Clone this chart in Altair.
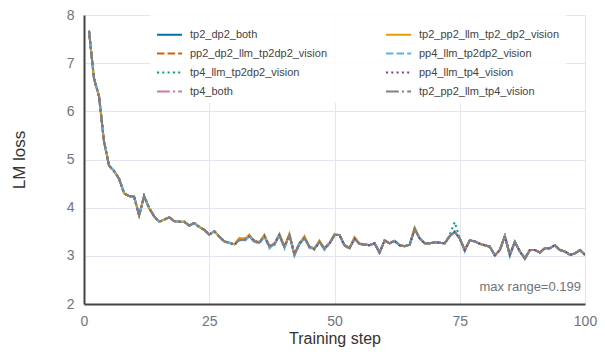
import altair as alt
import pandas as pd

# ---- data ----
steps = list(range(1, 101))

base_loss = [
    7.67, 6.68, 6.31, 5.37, 4.87, 4.76, 4.60, 4.30, 4.24, 4.23,
    3.84, 4.24, 3.99, 3.82, 3.71, 3.75, 3.80, 3.72, 3.71, 3.71,
    3.63, 3.68, 3.60, 3.54, 3.44, 3.51, 3.40, 3.30, 3.27, 3.24,
    3.33, 3.33, 3.41, 3.30, 3.28, 3.41, 3.20, 3.25, 3.43, 3.19,
    3.43, 3.03, 3.26, 3.37, 3.19, 3.15, 3.29, 3.15, 3.26, 3.43,
    3.43, 3.22, 3.16, 3.36, 3.25, 3.23, 3.22, 3.26, 3.07, 3.32,
    3.26, 3.31, 3.22, 3.20, 3.23, 3.56, 3.36, 3.26, 3.26, 3.28,
    3.27, 3.26, 3.41, 3.50, 3.36, 3.12, 3.32, 3.30, 3.25, 3.22,
    3.19, 3.01, 3.12, 3.41, 3.02, 3.29, 3.09, 2.94, 3.12, 3.12,
    3.07, 3.16, 3.16, 3.22, 3.12, 3.09, 3.02, 3.05, 3.12, 3.02,
]

# series in drawing order (last one on top) and in legend order (column-wise)
series_names = [
    "tp2_dp2_both",
    "pp2_dp2_llm_tp2dp2_vision",
    "tp4_llm_tp2dp2_vision",
    "tp4_both",
    "tp2_pp2_llm_tp2_dp2_vision",
    "pp4_llm_tp2dp2_vision",
    "pp4_llm_tp4_vision",
    "tp2_pp2_llm_tp4_vision",
]
series_colors = ["#0072B2", "#D55E00", "#009E73", "#CC79A7",
                 "#E69F00", "#56B4E9", "#7B3F9E", "#808080"]
solid = [1, 0]
dashed = [7.4, 3.2]
dotted = [2, 3.3]
dashdot = [12.8, 3.2, 2, 3.2]
series_dashes = [solid, dashed, dotted, dashdot, solid, dashed, dotted, dashdot]

# per-series values (step -> loss) where a run visibly departs from the shared curve
series_deviations = {
    "tp2_dp2_both": {38: 3.23, 43: 3.24},
    "pp2_dp2_llm_tp2dp2_vision": {34: 3.32, 56: 3.25},
    "tp4_llm_tp2dp2_vision": {73: 3.44, 74: 3.70},
    "tp4_both": {31: 3.37, 32: 3.36, 62: 3.33},
    "tp2_pp2_llm_tp2_dp2_vision": {31: 3.36, 33: 3.44, 36: 3.44, 39: 3.46, 41: 3.46,
                                   44: 3.41, 47: 3.32, 50: 3.46, 54: 3.39, 66: 3.59, 88: 2.97},
    "pp4_llm_tp2dp2_vision": {32: 3.30, 35: 3.24, 37: 3.15, 40: 3.15, 42: 3.00, 45: 3.16,
                              48: 3.12, 52: 3.19, 59: 3.04, 76: 3.09, 85: 2.99},
    "pp4_llm_tp4_vision": {30: 3.22, 46: 3.13},
    "tp2_pp2_llm_tp4_vision": {},
}

x_ticks = [0, 25, 50, 75, 100]
y_ticks = [2, 3, 4, 5, 6, 7, 8]
annotation = "max range=0.199"

# ---- build table ----
rows = []
for name in series_names:
    dev = series_deviations[name]
    for s, v in zip(steps, base_loss):
        rows.append({"step": s, "loss": dev.get(s, v), "series": name})
df = pd.DataFrame(rows)

FONT = "Liberation Sans"

legend = alt.Legend(
    title=None, orient="none", legendX=66, legendY=0, columns=2,
    symbolType="stroke", symbolSize=625, symbolStrokeWidth=2,
    labelFontSize=11, labelColor="#444444", labelFont=FONT, labelLimit=300,
    labelOffset=7, columnPadding=55, rowPadding=-4.5, padding=6,
    fillColor="rgba(255,255,255,0.85)",
)

lines = alt.Chart(df).mark_line(strokeWidth=2, clip=True).encode(
    x=alt.X("step:Q", scale=alt.Scale(domain=[0, 100], nice=False),
            axis=alt.Axis(values=x_ticks, title="Training step", format="d", labelFlush=False,
                          titleY=26, titleBaseline="top", titleFontSize=16)),
    y=alt.Y("loss:Q", scale=alt.Scale(domain=[2, 8], nice=False, zero=False),
            axis=alt.Axis(values=y_ticks, title="LM loss", format="d", labelFlush=False)),
    color=alt.Color("series:N", sort=series_names,
                    scale=alt.Scale(domain=series_names, range=series_colors), legend=legend),
    strokeDash=alt.StrokeDash("series:N", sort=series_names,
                              scale=alt.Scale(domain=series_names, range=series_dashes), legend=legend),
)

note = alt.Chart(pd.DataFrame({"t": [annotation]})).mark_text(
    align="right", baseline="middle", fontSize=13, color="#707480", font=FONT
).encode(x=alt.value(497), y=alt.value(272), text="t:N")

chart = alt.layer(lines, note).properties(
    width=501, height=289,
    autosize=alt.AutoSizeParams(type="none"),
    padding={"left": 76, "top": 7, "right": 12, "bottom": 44},
).configure(font=FONT).configure_view(stroke=None).configure_axis(
    ticks=False, tickSize=0, domainColor="#444444", domainWidth=2,
    gridColor="#e3e6ee", gridWidth=1,
    labelFontSize=14, labelColor="#70747f", labelFont=FONT,
    titleFontSize=17, titleFontWeight="normal", titleColor="#333333", titleFont=FONT,
).configure_axisY(labelPadding=10, titlePadding=38).configure_axisX(labelPadding=10)

chart.save("out.html", embed_options={"renderer": "svg", "actions": False})
